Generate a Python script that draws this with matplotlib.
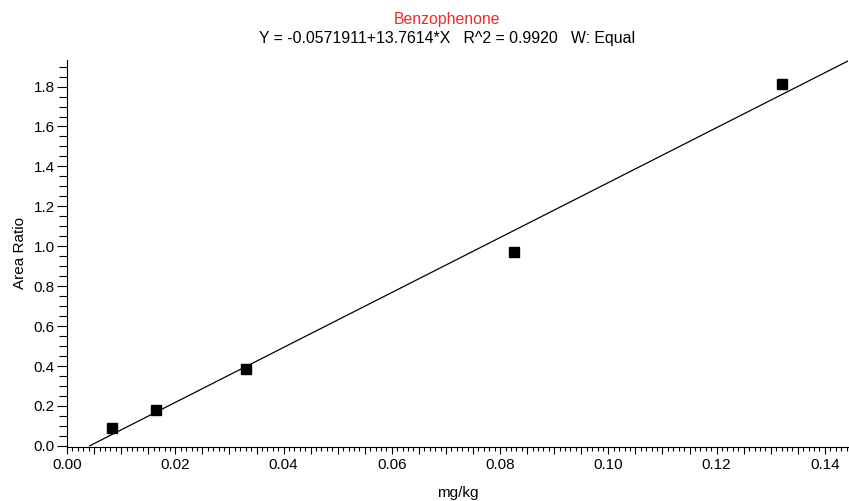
import matplotlib
matplotlib.use('Agg')
from matplotlib import pyplot as plt
from matplotlib.ticker import MultipleLocator, FuncFormatter
import numpy as np

plt.rcParams['font.family'] = ['Liberation Sans', 'DejaVu Sans']

# calibration points
conc = [0.00825, 0.0165, 0.033, 0.0825, 0.132]
area_ratio = [0.090, 0.180, 0.385, 0.970, 1.812]

# regression from the calibration software
intercept = -0.0571911
slope = 13.7614
r2 = 0.9920
compound = "Benzophenone"

xmax = 0.1443
ymin, ymax = -0.005, 1.935

fig = plt.figure(figsize=(8.49, 5.01), dpi=100)
ax = fig.add_axes([0.079, 0.108, 0.920, 0.773])

# fitted line, starting where it crosses zero
x0 = -intercept / slope
xs = np.linspace(x0, xmax, 50)
ax.plot(xs, intercept + slope * xs, color='black', lw=0.9)
ax.plot(conc, area_ratio, 's', color='black', ms=7.3, clip_on=False)

ax.set_xlim(0, xmax)
ax.set_ylim(ymin, ymax)

for s in ['top', 'right']:
    ax.spines[s].set_visible(False)
for s in ['left', 'bottom']:
    ax.spines[s].set_linewidth(0.8)

ax.xaxis.set_major_locator(MultipleLocator(0.005))
ax.xaxis.set_minor_locator(MultipleLocator(0.001))
ax.xaxis.set_major_formatter(FuncFormatter(
    lambda v, p: f"{v:.2f}" if abs(round(v / 0.02) * 0.02 - v) < 1e-6 else ""))
ax.yaxis.set_major_locator(MultipleLocator(0.2))
ax.yaxis.set_minor_locator(MultipleLocator(0.05))
ax.yaxis.set_major_formatter(FuncFormatter(lambda v, p: f"{v:.1f}"))

ax.tick_params(axis='x', which='major', length=5, width=0.8, labelsize=11, pad=3)
ax.tick_params(axis='x', which='minor', length=3, width=0.8)
ax.tick_params(axis='y', which='major', length=7, width=0.8, labelsize=11, pad=2)
ax.tick_params(axis='y', which='minor', length=6, width=0.8)

ax.set_xlabel("mg/kg", fontsize=11, labelpad=10)
ax.set_ylabel("Area Ratio", fontsize=11, labelpad=5)

fig.text(0.527, 0.962, compound, color='#ee2a2a', fontsize=11.4, ha='center', va='center')
fig.text(0.527, 0.923, f"Y = {intercept:.7f}+{slope:.4f}*X   R^2 = {r2:.4f}   W: Equal",
         color='black', fontsize=11.4, ha='center', va='center')

fig.savefig('out.png', dpi=100)
